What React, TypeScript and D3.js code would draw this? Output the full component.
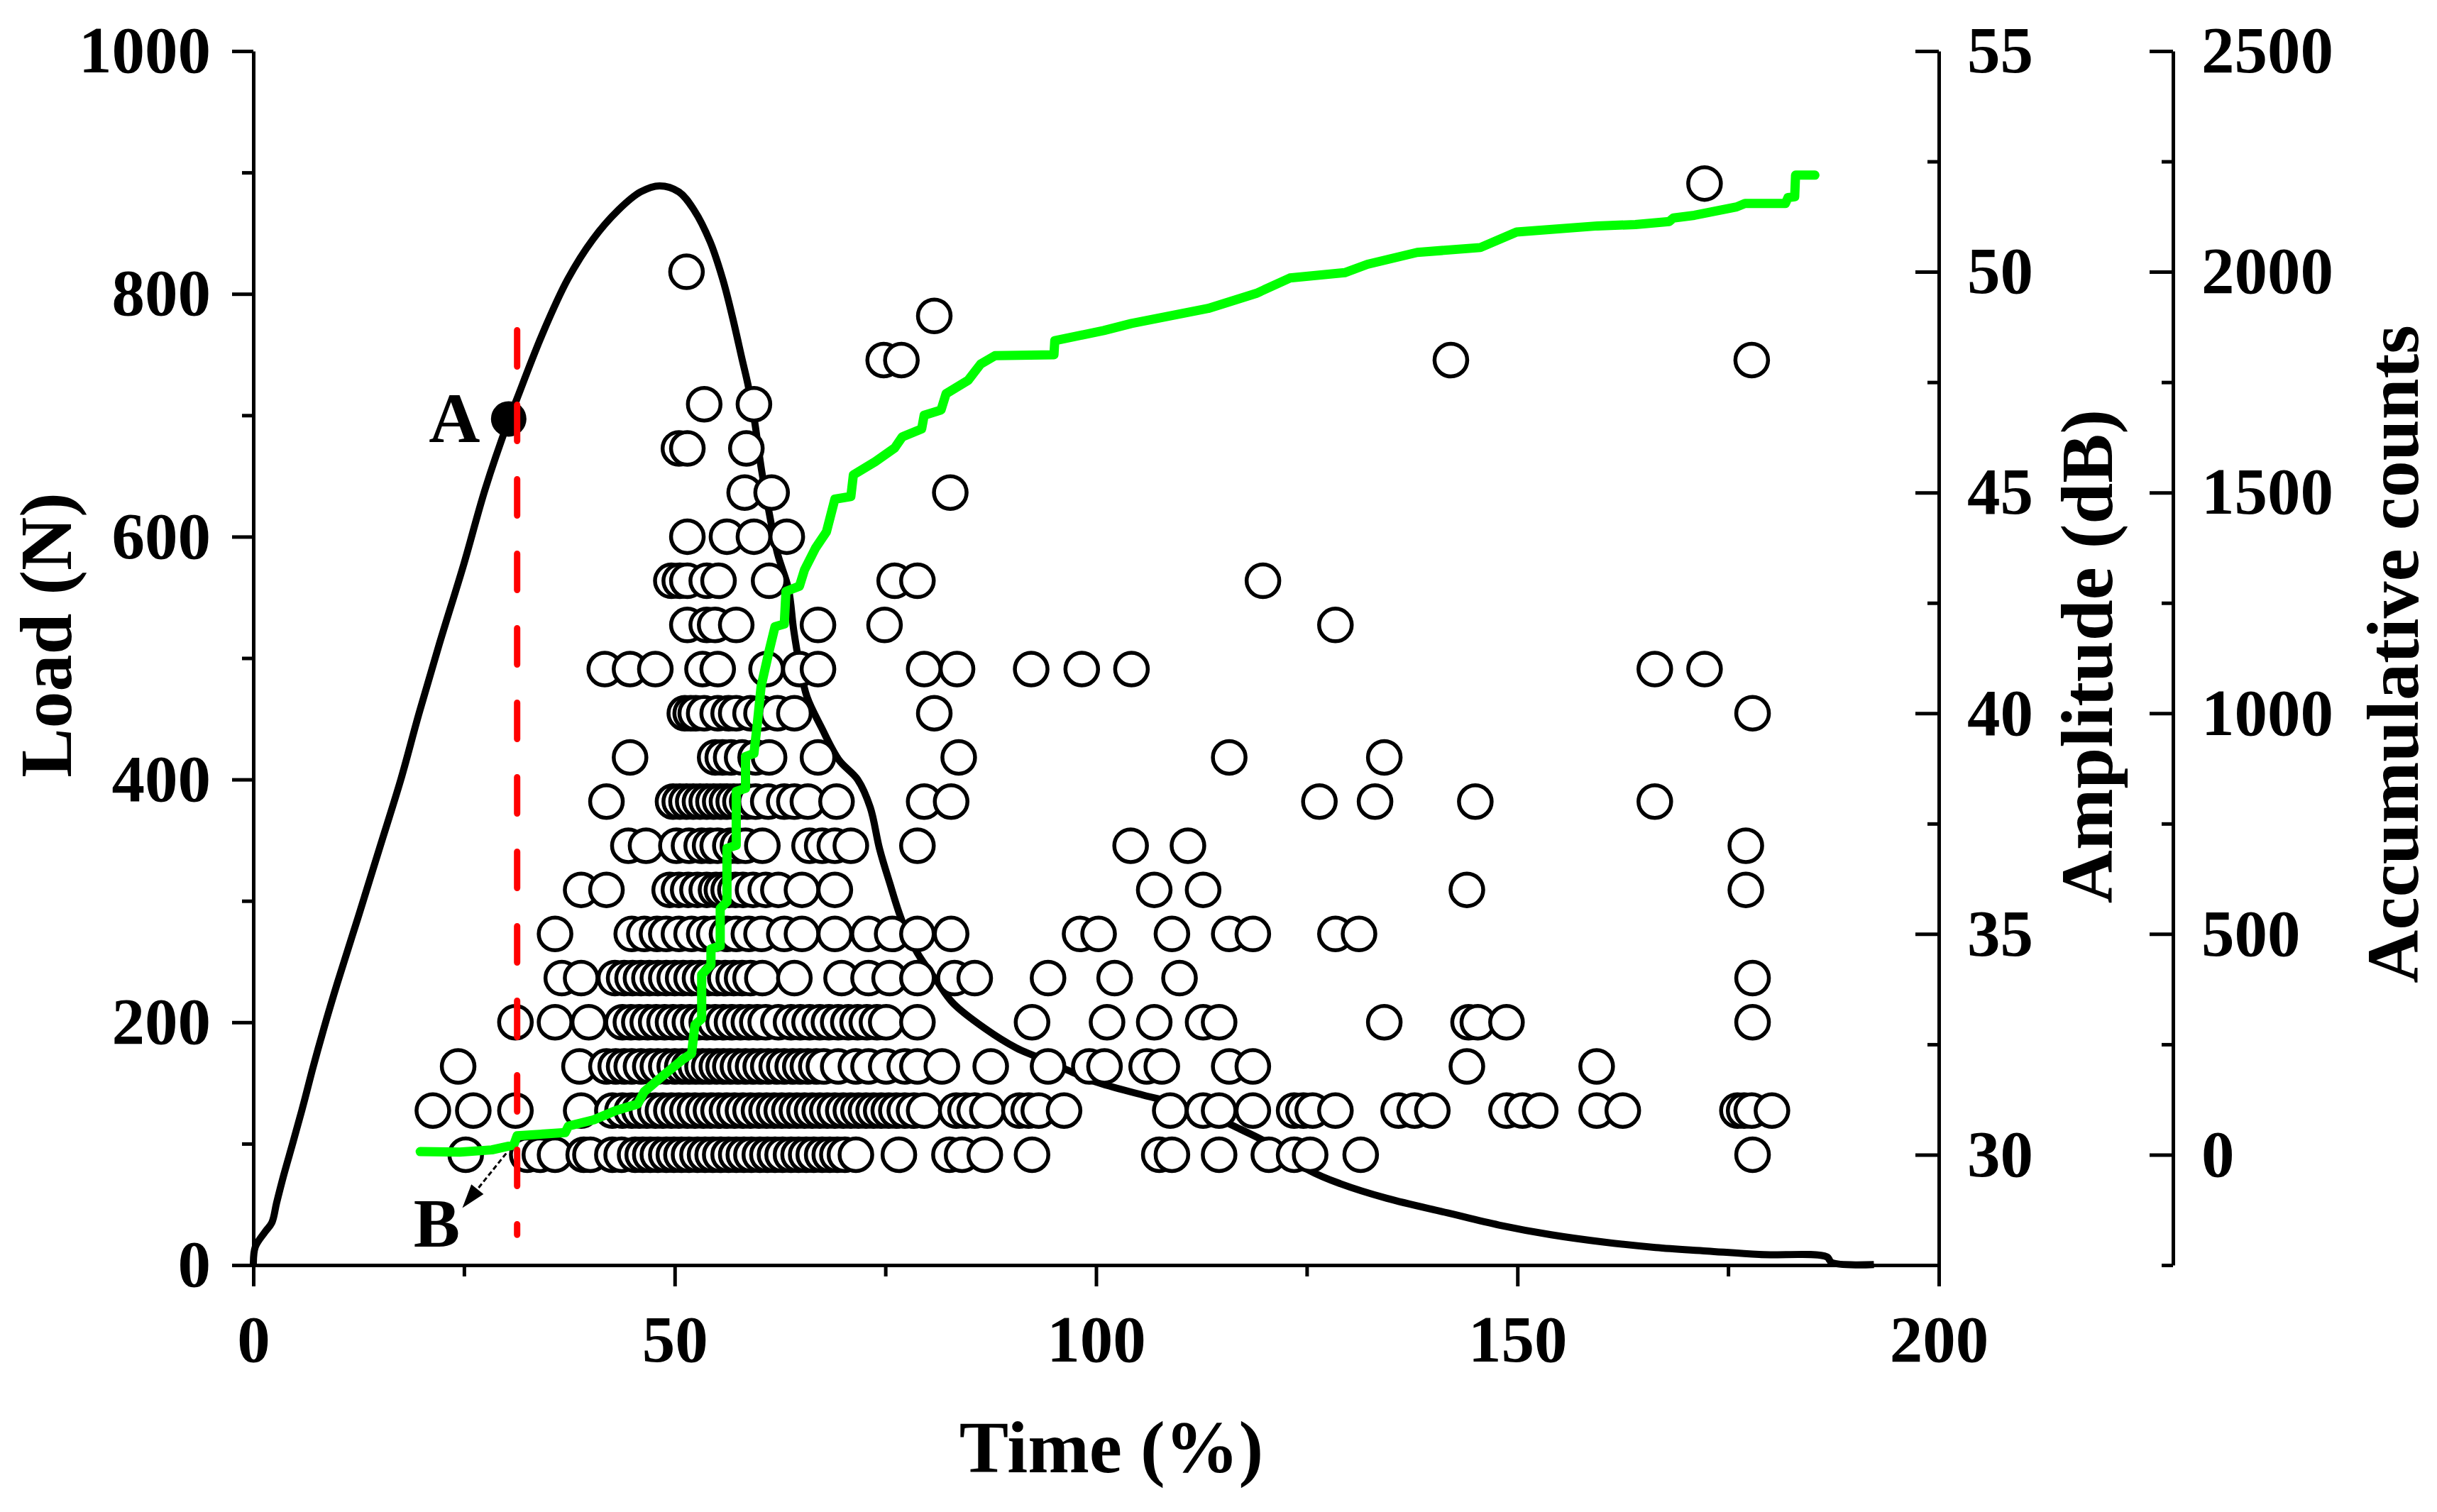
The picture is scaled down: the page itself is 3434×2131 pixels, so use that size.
import * as d3 from "d3";
import React, { useEffect, useRef } from "react";

// load curve (Time %, Load N)
const loadTime = [0, 0.23, 1.35, 2.2, 2.75, 3.6, 4.7, 5.85, 6.97, 8.37, 10, 12.5, 15, 17.5, 19.6, 22, 25, 27.5, 30.3, 31.3, 34.3, 37.3, 40.3, 43.3, 45.95, 48.2, 50.5, 52.3, 54.2, 55.7, 56.85, 58, 58.7, 59.5, 60.3, 61.2, 62.2, 63.5, 64.1, 64.8, 65.7, 67.4, 69.5, 71.7, 73.2, 74.3, 75.5, 77, 78.8, 81.1, 83, 86.8, 90.5, 92.8, 96.5, 99.9, 105.6, 111.2, 117.1, 120.8, 125.3, 129, 134.5, 141.7, 147.8, 154, 160.2, 166.4, 172.5, 178.7, 186.7, 187.3, 192.3];
const loadValue = [0, 15, 27, 35, 51, 74, 101, 130, 160, 195, 233, 288, 344, 400, 453, 510, 578, 639, 696, 714, 767, 812, 845, 869, 884, 889, 884, 869, 843, 812, 781, 746, 725, 694, 655, 620, 586, 557, 524, 495, 468, 443, 416, 400, 377, 343, 315, 283, 257, 234, 216, 195, 179, 172, 161, 151, 140, 130, 112, 99, 78, 67, 55, 43, 33, 25, 19, 14.5, 11.6, 8.7, 6.8, 2, 0.5];

// accumulative counts (Time %, counts)
const cumTime = [19.8, 24.5, 28.3, 30.9, 31.3, 37.0, 37.4, 40.4, 43.0, 45.6, 46.4, 48.6, 50.9, 52.0, 52.4, 53.2, 53.2, 54.3, 54.3, 55.4, 55.4, 56.2, 56.2, 57.3, 57.3, 58.4, 58.4, 59.4, 59.8, 60.25, 61.2, 61.9, 63.0, 63.2, 64.8, 65.4, 66.7, 68, 69, 70.9, 71.2, 73.8, 76.1, 77.0, 79.3, 79.6, 81.6, 82.2, 84.8, 86.3, 88, 95, 95.1, 100.9, 104.2, 113.3, 119, 123, 129.5, 132.2, 138.1, 145.6, 149.9, 159.5, 164, 168, 168.5, 171, 176, 177, 181.8, 182.1, 182.9, 183, 185.3];
const cumCount = [7, 6, 11, 22, 43, 50, 65, 79, 100, 115, 143, 179, 215, 229, 294, 308, 408, 430, 466, 473, 558, 573, 694, 701, 823, 830, 902, 909, 976, 1061, 1141, 1196, 1202, 1276, 1288, 1325, 1374, 1411, 1485, 1491, 1540, 1570, 1601, 1626, 1644, 1675, 1687, 1724, 1754, 1791, 1810, 1812, 1844, 1867, 1883, 1917, 1951, 1986, 1998, 2017, 2044, 2055, 2090, 2104, 2107, 2114, 2122, 2128, 2147, 2155, 2155, 2168, 2170, 2219, 2219];

// AE hits: time (%) of each hit, one array per amplitude level (dB)
const amp30 = [25.2, 32.5, 34.0, 35.8, 39.2, 40.0, 42.6, 43.7, 45.3, 46.2, 47.1, 48.0, 49.0, 49.9, 50.8, 51.7, 52.7, 53.6, 54.5, 55.4, 56.4, 57.3, 58.2, 59.1, 60.1, 61.0, 61.9, 62.8, 63.8, 64.7, 65.6, 66.5, 67.5, 68.4, 69.3, 70.2, 71.5, 76.6, 82.6, 84.1, 86.8, 92.4, 107.5, 109.0, 114.6, 120.5, 123.5, 125.4, 131.4, 177.9];
const amp31 = [21.3, 26.1, 31.1, 38.9, 42.6, 43.8, 44.9, 45.8, 46.7, 47.7, 48.6, 49.6, 50.5, 51.5, 52.4, 53.4, 54.3, 55.2, 56.2, 57.1, 58.1, 59.0, 60.0, 60.9, 61.8, 62.7, 63.6, 64.5, 65.4, 66.3, 67.2, 68.1, 69.0, 70.0, 70.9, 71.8, 72.7, 73.6, 74.5, 75.4, 76.3, 77.3, 78.4, 79.6, 83.4, 84.5, 85.6, 87.1, 90.9, 92.0, 93.2, 96.2, 108.8, 112.7, 114.6, 118.6, 123.5, 124.6, 125.7, 128.4, 135.9, 137.8, 139.9, 148.7, 150.6, 152.7, 159.4, 162.5, 176.1, 176.9, 177.8, 180.2];
const amp32 = [24.3, 38.7, 41.9, 43.0, 44.0, 44.9, 46.0, 47.1, 48.0, 49.0, 50.0, 50.9, 51.7, 52.5, 53.3, 54.1, 55.0, 55.8, 56.6, 57.5, 58.4, 59.3, 60.2, 61.1, 62.1, 63.0, 64.0, 64.9, 65.8, 66.8, 67.7, 69.4, 71.5, 73.0, 75.1, 77.3, 78.8, 81.7, 87.5, 94.3, 99.2, 101.0, 106.0, 107.8, 115.8, 118.6, 144.0, 159.4];
const amp33 = [31.1, 35.8, 39.8, 43.8, 44.8, 45.8, 46.8, 47.8, 48.8, 49.8, 50.8, 51.8, 52.8, 53.8, 54.8, 55.8, 56.8, 57.8, 58.8, 59.8, 60.8, 62.3, 63.8, 64.9, 66.0, 67.2, 68.3, 69.4, 70.6, 71.7, 72.8, 74.0, 75.1, 78.8, 92.4, 101.3, 106.9, 112.7, 114.6, 134.2, 144.2, 145.3, 148.7, 177.9];
const amp34 = [36.6, 38.9, 42.9, 44.0, 45.0, 46.0, 47.0, 48.0, 49.0, 50.0, 51.0, 52.0, 53.0, 54.0, 55.0, 56.0, 57.0, 58.0, 59.0, 60.4, 64.2, 69.8, 73.0, 75.5, 78.8, 83.2, 85.6, 94.3, 102.2, 109.9, 177.9];
const amp35 = [35.8, 44.9, 46.4, 47.9, 49.0, 50.5, 52.0, 53.5, 54.7, 56.2, 57.3, 58.8, 60.3, 63.0, 65.1, 69.0, 73.0, 75.8, 78.8, 82.8, 98.1, 100.3, 109.0, 115.8, 118.6, 128.4, 131.2];
const amp36 = [38.9, 41.9, 49.4, 50.5, 51.6, 52.7, 53.8, 54.9, 55.6, 56.4, 57.2, 58.1, 59.3, 60.8, 62.3, 65.1, 69.0, 106.9, 112.7, 144.0, 177.1];
const amp37 = [44.5, 46.6, 50.2, 51.7, 53.2, 54.2, 55.1, 56.6, 57.5, 58.4, 60.4, 66.0, 67.5, 69.0, 70.9, 78.8, 104.1, 110.9, 177.1];
const amp38 = [41.9, 49.8, 50.6, 51.4, 52.2, 53.0, 53.8, 54.6, 55.4, 56.2, 57.0, 57.8, 58.6, 59.6, 61.1, 63.0, 64.2, 65.8, 69.2, 79.6, 82.8, 126.5, 133.1, 145.0, 166.3];
const amp39 = [44.7, 54.8, 55.7, 56.7, 58.0, 59.6, 61.2, 67.0, 83.7, 115.8, 134.2];
const amp40 = [51.2, 51.9, 52.5, 53.5, 55.1, 56.4, 57.3, 59.0, 60.3, 62.2, 64.2, 80.8, 177.9];
const amp41 = [41.7, 44.7, 47.7, 53.3, 55.1, 60.9, 64.8, 67.0, 79.6, 83.5, 92.3, 98.3, 104.2, 166.3, 172.2];
const amp42 = [51.5, 53.8, 54.8, 57.3, 67.0, 74.9, 128.4];
const amp43 = [49.6, 50.6, 51.5, 53.8, 55.2, 61.2, 76.1, 78.8, 119.8];
const amp44 = [51.5, 56.2, 59.4, 63.3];
const amp45 = [58.3, 61.5, 82.7];
const amp46 = [50.5, 51.5, 58.5];
const amp47 = [53.5, 59.4];
const amp48 = [74.8, 76.9, 142.1, 177.8];
const amp49 = [80.8];
const amp50 = [51.4];
const amp52 = [172.2];

const ampRows: [number, number[]][] = [
  [30, amp30], [31, amp31], [32, amp32], [33, amp33], [34, amp34], [35, amp35],
  [36, amp36], [37, amp37], [38, amp38], [39, amp39], [40, amp40], [41, amp41],
  [42, amp42], [43, amp43], [44, amp44], [45, amp45], [46, amp46], [47, amp47],
  [48, amp48], [49, amp49], [50, amp50], [52, amp52],
];

// ticks
const timeTicks = [0, 50, 100, 150, 200];
const timeMinor = [25, 75, 125, 175];
const loadTicks = [0, 200, 400, 600, 800, 1000];
const loadMinor = [100, 300, 500, 700, 900];
const ampTicks = [30, 35, 40, 45, 50, 55];
const ampMinor = [32.5, 37.5, 42.5, 47.5, 52.5];
const countTicks = [0, 500, 1000, 1500, 2000, 2500];
const countMinor = [-250, 250, 750, 1250, 1750, 2250];

// annotations
const pointA = { t: 30.3, load: 697 };
const markerLine = { t: 31.3, from: 25, to: 770 };

const W = 3434;
const H = 2131;
const FONT = "'Liberation Serif', 'Times New Roman', serif";

const x = d3.scaleLinear().domain([0, 200]).range([357, 2732]);
const yLoad = d3.scaleLinear().domain([0, 1000]).range([1783, 72]);
const yAmp = d3.scaleLinear().domain([27.5, 55]).range([1783, 72]);
const yCount = d3.scaleLinear().domain([-250, 2500]).range([1783, 72]);
const countAxisX = 3062;
const fmt = (d: d3.NumberValue) => String(d);

const App: React.FC = () => {
  const leftRef = useRef<SVGGElement>(null);
  const bottomRef = useRef<SVGGElement>(null);
  const ampRef = useRef<SVGGElement>(null);
  const countRef = useRef<SVGGElement>(null);

  useEffect(() => {
    const style = (g: d3.Selection<SVGGElement, unknown, null, undefined>) => {
      g.selectAll("path, line").attr("stroke", "#000").attr("stroke-width", 5);
      g.selectAll("text")
        .attr("font-family", FONT)
        .attr("font-weight", "bold")
        .attr("font-size", 93)
        .attr("fill", "#000");
    };
    const draw = (
      el: SVGGElement | null,
      major: d3.Axis<d3.NumberValue>,
      minor: d3.Axis<d3.NumberValue>
    ) => {
      const g = d3.select(el!);
      g.selectAll("*").remove();
      const gMin = g.append("g").call(minor);
      gMin.select(".domain").remove();
      const gMaj = g.append("g").call(major);
      style(gMin);
      style(gMaj);
    };

    draw(
      leftRef.current,
      d3.axisLeft(yLoad).tickValues(loadTicks).tickFormat(fmt).tickSize(30).tickPadding(30).tickSizeOuter(0),
      d3.axisLeft(yLoad).tickValues(loadMinor).tickSize(16).tickFormat(() => "")
    );
    draw(
      bottomRef.current,
      d3.axisBottom(x).tickValues(timeTicks).tickFormat(fmt).tickSize(30).tickPadding(40).tickSizeOuter(0),
      d3.axisBottom(x).tickValues(timeMinor).tickSize(16).tickFormat(() => "")
    );
    draw(
      ampRef.current,
      d3.axisRight(yAmp).tickValues(ampTicks).tickFormat(fmt).tickSizeInner(-33).tickSizeOuter(0).tickPadding(40),
      d3.axisRight(yAmp).tickValues(ampMinor).tickSizeInner(-16).tickFormat(() => "")
    );
    draw(
      countRef.current,
      d3.axisRight(yCount).tickValues(countTicks).tickFormat(fmt).tickSizeInner(-33).tickSizeOuter(0).tickPadding(40),
      d3.axisRight(yCount).tickValues(countMinor).tickSizeInner(-16).tickFormat(() => "")
    );
  }, []);

  const loadLine = d3
    .line<number>()
    .x((_, i) => x(loadTime[i]))
    .y((d) => yLoad(d))
    .curve(d3.curveCatmullRom.alpha(0.5));

  const countLine = d3
    .line<number>()
    .x((_, i) => x(cumTime[i]))
    .y((d) => yCount(d));

  const hits = ampRows
    .flatMap(([db, ts]) => ts.map((t) => ({ t, db })))
    .sort((a, b) => a.t - b.t);

  // arrow B (data coords)
  const arrowFrom = [x(30.0), yLoad(92)];
  const arrowTo = [x(24.8), yLoad(47)];
  const ang = Math.atan2(arrowTo[1] - arrowFrom[1], arrowTo[0] - arrowFrom[0]);
  const headLen = 34;
  const headW = 11;
  const hx = arrowTo[0] - headLen * Math.cos(ang);
  const hy = arrowTo[1] - headLen * Math.sin(ang);
  const head = [
    [arrowTo[0], arrowTo[1]],
    [hx + headW * Math.sin(ang), hy - headW * Math.cos(ang)],
    [hx - headW * Math.sin(ang), hy + headW * Math.cos(ang)],
  ];

  return (
    <svg
      width={W}
      height={H}
      style={{ position: "absolute", left: 0, top: 0, background: "#fff" }}
    >
      <rect width={W} height={H} fill="#fff" />

      <path
        d={loadLine(loadValue) || ""}
        fill="none"
        stroke="#000"
        strokeWidth={10}
        strokeLinejoin="round"
      />

      <g>
        {hits.map((h, i) => (
          <circle
            key={i}
            cx={x(h.t)}
            cy={yAmp(h.db)}
            r={23}
            fill="#fff"
            stroke="#000"
            strokeWidth={5.5}
          />
        ))}
      </g>

      <path
        d={countLine(cumCount) || ""}
        fill="none"
        stroke="#00ff00"
        strokeWidth={13}
        strokeLinejoin="round"
        strokeLinecap="round"
      />

      <circle cx={x(pointA.t)} cy={yLoad(pointA.load)} r={25} fill="#000" />

      <line
        x1={x(markerLine.t)}
        x2={x(markerLine.t)}
        y1={yLoad(markerLine.to)}
        y2={yLoad(markerLine.from)}
        stroke="#ff0000"
        strokeWidth={9}
        strokeDasharray="51,54"
        strokeLinecap="round"
      />

      <line
        x1={arrowFrom[0]}
        y1={arrowFrom[1]}
        x2={hx}
        y2={hy}
        stroke="#000"
        strokeWidth={3}
        strokeDasharray="7,4"
      />
      <polygon points={head.map((p) => p.join(",")).join(" ")} fill="#000" />

      <text
        x={x(26.9)}
        y={yLoad(678)}
        textAnchor="end"
        fontFamily={FONT}
        fontWeight="bold"
        fontSize={100}
      >
        A
      </text>
      <text
        x={x(19.0)}
        y={yLoad(15)}
        fontFamily={FONT}
        fontWeight="bold"
        fontSize={98}
      >
        B
      </text>

      <g ref={leftRef} transform={`translate(${x(0)},0)`} />
      <g ref={bottomRef} transform={`translate(0,${yLoad(0)})`} />
      <g ref={ampRef} transform={`translate(${x(200)},0)`} />
      <g ref={countRef} transform={`translate(${countAxisX},0)`} />

      <text
        transform={`translate(100,895) rotate(-90)`}
        textAnchor="middle"
        fontFamily={FONT}
        fontWeight="bold"
        fontSize={104}
      >
        Load (N)
      </text>
      <text
        x={1566}
        y={2075}
        textAnchor="middle"
        fontFamily={FONT}
        fontWeight="bold"
        fontSize={104}
      >
        Time (%)
      </text>
      <text
        transform={`translate(2976,925) rotate(-90)`}
        textAnchor="middle"
        fontFamily={FONT}
        fontWeight="bold"
        fontSize={104}
      >
        Amplitude (dB)
      </text>
      <text
        transform={`translate(3407,922) rotate(-90)`}
        textAnchor="middle"
        fontFamily={FONT}
        fontWeight="bold"
        fontSize={104}
      >
        Accumulative counts
      </text>
    </svg>
  );
};

export default App;
